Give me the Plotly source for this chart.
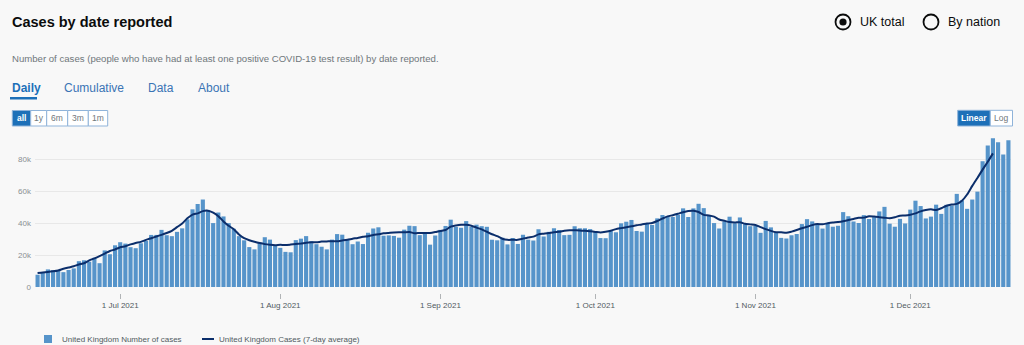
import pandas as pd
import plotly.graph_objects as go

# ---------------- data ----------------
cases_jun = [7673, 9055, 11007, 10476, 10321, 9284, 10633, 11625, 16135, 16703, 15810, 18270, 14876, 22868, 20479, 26068]
cases_jul = [27989, 27125, 24885, 24248, 27334, 28773, 32548, 32551, 35707, 32367,
             31772, 34471, 36660, 42302, 48553, 51870, 54674, 48161, 39950, 46558,
             44104, 39906, 36389, 31795, 29173, 24950, 23511, 27734, 31117, 29622, 26144]
cases_aug = [24470, 21952, 21691, 29312, 30215, 31808, 28612, 26750, 25161, 23510,
             29612, 33074, 32700, 29520, 26750, 28438, 26852, 33904, 36572, 37314,
             32058, 32253, 31914, 30838, 35847, 38281, 38046, 32406, 33196, 26476, 32181]
cases_sep = [35693, 38154, 42076, 37578, 37011, 41192, 37489, 38975, 38013, 37622,
             29547, 29173, 30825, 26628, 30597, 26911, 32651, 29612, 29053, 36100,
             31564, 34460, 36710, 35623, 32417, 32600, 37960, 36700, 36700, 36200]
cases_oct = [35000, 30600, 30500, 35400, 34200, 39800, 40800, 41900, 35000, 34600,
             39400, 38750, 42900, 45000, 44400, 43750, 45100, 49156, 43738, 49139,
             52009, 49298, 44985, 39962, 36567, 40954, 43941, 39842, 43467, 39281, 38000]
cases_nov = [38200, 33865, 41299, 37269, 34029, 30693, 30305, 32322, 33117, 39329,
             42408, 41000, 38750, 36517, 39705, 37681, 38263, 46807, 44242, 40941,
             40004, 44917, 42484, 43676, 47240, 50091, 39567, 37681, 42583, 39716]
cases_dec = [48374, 53945, 50584, 42848, 43992, 51459, 45691, 51342, 50867, 58194,
             54073, 48854, 54661, 59610, 78610, 88376, 93045, 90418, 82886, 91743]

avg_jun = [8740, 9109, 9365, 9778, 10343, 11354, 12168, 12930, 14066, 14865, 16612, 17877, 19296, 20909, 22525, 23470]
avg_jul = [24809, 25447, 26632, 27557, 28209, 29435, 30504, 31579, 32598, 33725,
           35119, 37405, 39714, 42900, 45242, 46024, 47438, 47696, 46460, 44249,
           40980, 38268, 36125, 32833, 30494, 29238, 28272, 27464, 26793, 26364, 26104]
avg_aug = [26330, 26201, 26513, 26866, 27191, 27650, 27910, 27953, 28361, 28488,
           28618, 28618, 29086, 29564, 30177, 30677, 31336, 31698, 32484, 32981,
           33550, 33828, 34072, 34177, 34226, 34361, 33584, 33776, 33754, 33736, 34312]
avg_sep = [35051, 35596, 37698, 38456, 38925, 38905, 38269, 37121, 36002, 34521,
           32969, 31772, 30186, 29476, 29485, 29468, 30222, 30927, 31479, 32879,
           33303, 33704, 34211, 34476, 35210, 35530, 35457, 35368, 35109, 34809]
avg_oct = [34443, 34086, 34529, 35186, 36171, 36800, 37386, 37957, 38607, 39050,
           39650, 40007, 41257, 42757, 44151, 44863, 45755, 46756, 47456, 47632,
           46898, 45100, 44702, 43959, 42221, 41388, 40573, 40293, 40526, 39514, 39136]
avg_nov = [38769, 37420, 36194, 35094, 34255, 34148, 33866, 34600, 35596, 36747,
           37635, 38689, 39341, 39189, 39818, 40281, 40594, 41092, 41836, 42523,
           43296, 43358, 44193, 43997, 43665, 43332, 42936, 43607, 44565, 44636]
avg_dec = [45104, 46006, 47274, 48128, 48552, 48112, 49199, 50803, 51497, 51955,
           53943, 57838, 63197, 68176, 73368, 78229, 83527, None, None, None]

start_date = "2021-06-15"
end_date = "2021-12-20"
y_ticks = [0, 20000, 40000, 60000, 80000]

bar_name = "United Kingdom Number of cases"
line_name = "United Kingdom Cases (7-day average)"

cases = cases_jun + cases_jul + cases_aug + cases_sep + cases_oct + cases_nov + cases_dec
avg = avg_jun + avg_jul + avg_aug + avg_sep + avg_oct + avg_nov + avg_dec
dates = pd.date_range(start_date, end_date, freq="D")

# ---------------- layout geometry ----------------
W, H = 1024, 345
ML, MR, MT, MB = 35, 13, 135, 46
PW = W - ML - MR
PH = H - MT - MB


def fx(px):
    return (px - ML) / PW


def fy(py):
    return (H - MB - py) / PH


FONT = "Liberation Sans, Arial, sans-serif"
BLUE = "#1d70b8"
BG = "#f8f8f8"
BAR_COLOR = "#5694ca"
LINE_COLOR = "#0b2e6b"

fig = go.Figure()
fig.add_trace(go.Bar(x=dates, y=cases, name=bar_name, marker=dict(color=BAR_COLOR, line=dict(width=0))))
fig.add_trace(go.Scatter(x=dates, y=avg, name=line_name, mode="lines",
                         line=dict(color=LINE_COLOR, width=2, shape="spline", smoothing=0.6)))

shapes = []
annotations = []


def text(s, x, y, size, color, anchor="left"):
    annotations.append(dict(text=s, x=fx(x), y=fy(y), xref="paper", yref="paper",
                            xanchor=anchor, yanchor="middle", showarrow=False,
                            font=dict(family=FONT, size=size, color=color)))


# title
text("<b>Cases by date reported</b>", 10, 22, 14.5, "#0b0c0c")
# radio buttons
for cx, label, sel in [(843, "UK total", True), (931, "By nation", False)]:
    r = 7.5
    shapes.append(dict(type="circle", xref="paper", yref="paper", x0=fx(cx - r), x1=fx(cx + r),
                       y0=fy(22 + r), y1=fy(22 - r), line=dict(color="#0b0c0c", width=1.8), fillcolor="rgba(0,0,0,0)"))
    if sel:
        r2 = 3.6
        shapes.append(dict(type="circle", xref="paper", yref="paper", x0=fx(cx - r2), x1=fx(cx + r2),
                           y0=fy(22 + r2), y1=fy(22 - r2), line=dict(color="#0b0c0c", width=0), fillcolor="#0b0c0c"))
    text(label, cx + 15, 22, 12.5, "#0b0c0c")
# subtitle
text("Number of cases (people who have had at least one positive COVID-19 test result) by date reported.",
     10, 58, 9.6, "#6f777b")
# tabs
for tx, label, active in [(10, "Daily", True), (62, "Cumulative", False), (146, "Data", False), (196, "About", False)]:
    text(f"<b>{label}</b>" if active else label, tx, 88, 12, BLUE if active else "#3a74b5")
shapes.append(dict(type="rect", xref="paper", yref="paper", x0=fx(10), x1=fx(37), y0=fy(99.5), y1=fy(97),
                   line=dict(width=0), fillcolor=BLUE))


def button_group(cells, y0, y1, size):
    for (x0, x1, label, active) in cells:
        shapes.append(dict(type="rect", xref="paper", yref="paper", x0=fx(x0), x1=fx(x1), y0=fy(y1), y1=fy(y0),
                           line=dict(color="#8fb3d9", width=1), fillcolor=BLUE if active else "#ffffff"))
        text(f"<b>{label}</b>" if active else label, (x0 + x1) / 2, (y0 + y1) / 2, size,
             "#ffffff" if active else "#6f777b", anchor="center")


button_group([(12.3, 30.7, "all", True), (30.7, 46.7, "1y", False), (46.7, 67.7, "6m", False),
              (67.7, 88.3, "3m", False), (88.3, 107.7, "1m", False)], 110.5, 126, 8.5)
button_group([(957.7, 990.3, "Linear", True), (990.3, 1012.5, "Log", False)], 110.3, 126, 8.5)

# legend (drawn to match the compact original key)
shapes.append(dict(type="rect", xref="paper", yref="paper", x0=fx(44), x1=fx(52), y0=fy(343), y1=fy(335),
                   line=dict(width=0), fillcolor=BAR_COLOR))
text(bar_name, 60, 339, 8, "#505a5f")
shapes.append(dict(type="line", xref="paper", yref="paper", x0=fx(202), x1=fx(214), y0=fy(339), y1=fy(339),
                   line=dict(color=LINE_COLOR, width=2)))
text(line_name, 217, 339, 8, "#505a5f")

fig.update_layout(
    width=W, height=H,
    margin=dict(l=ML, r=MR, t=MT, b=MB, pad=0, autoexpand=False),
    paper_bgcolor=BG, plot_bgcolor=BG,
    bargap=0.2,
    showlegend=False,
    font=dict(family=FONT),
    shapes=shapes,
    annotations=annotations,
    xaxis=dict(type="date", range=["2021-06-14 12:00", "2021-12-20 12:00"],
               anchor="free", position=0, automargin=False,
               tick0="2021-07-01", dtick="M1", tickformat="%-d %b %Y",
               ticks="inside", ticklen=5, tickcolor="#b1b4b6", tickwidth=1,
               showgrid=False, showline=False, zeroline=False,
               tickfont=dict(family=FONT, size=8, color="#505a5f")),
    yaxis=dict(domain=[12 / PH, 1], range=[0, 95000], tickvals=y_ticks, automargin=False,
               tickformat="~s", showgrid=True, gridcolor="#e8e8e8", gridwidth=1,
               zeroline=False, showline=False, ticks="", ticklabelstandoff=3,
               tickfont=dict(family=FONT, size=8, color="#8a8f92")),
)

fig.write_html("out.html")
